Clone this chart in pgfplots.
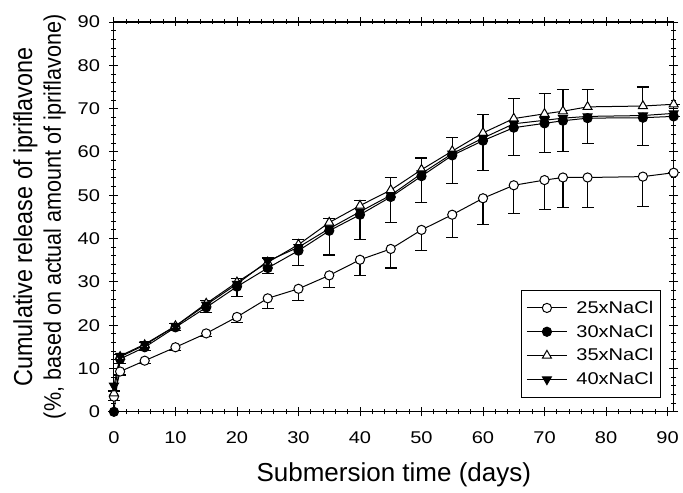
\documentclass[border=0pt]{standalone}
\usepackage{fontspec}
\setmainfont{Liberation Sans}
\newfontfamily\tickfont[FakeStretch=1.18]{Liberation Sans}
\newfontfamily\labfont[FakeStretch=0.9]{Liberation Sans}
\usepackage{pgfplots}
\pgfplotsset{compat=1.18}
\usepackage{pgfplotstable}

% time, value, error
\pgfplotstableread{
t y e
0 3.5 0.8
1 9.3 0.8
5 11.8 0.7
10 14.9 0.7
15 18.1 0.8
20 21.9 1.2
25 26.2 2.3
30 28.4 2.6
35 31.5 2.9
40 35.1 3.6
45 37.6 4.4
50 42.0 4.8
55 45.5 5.2
60 49.3 6.0
65 52.3 6.5
70 53.5 6.8
73 54.1 6.9
77 54.1 6.9
86 54.3 6.8
91 55.2 0
}\naclA
\pgfplotstableread{
t y e
0 0.0 0
1 12.2 1.0
5 14.9 0.8
10 19.5 0.8
15 24.1 1.2
20 28.9 2.2
25 33.2 1.3
30 37.2 3.4
35 41.8 5.6
40 45.5 5.7
45 49.6 5.8
50 54.4 6.1
55 59.2 6.5
60 62.6 6.8
65 65.6 6.5
70 66.6 6.7
73 67.2 7.2
77 67.8 5.8
86 67.9 6.5
91 68.2 0
}\naclB
\pgfplotstableread{
t y e
0 4.3 0.5
1 12.7 0.5
5 15.4 0.5
10 19.8 0.6
15 25.0 0.8
20 29.9 0.8
25 34.5 1.0
30 38.6 1.2
35 43.7 1.0
40 47.6 1.2
45 51.2 2.9
50 55.9 2.7
55 60.2 3.1
60 64.4 4.2
65 67.7 4.6
70 68.8 4.6
73 69.4 5.0
77 70.4 4.0
86 70.6 4.4
91 71.0 0
}\naclC
\pgfplotstableread{
t y
0 6.0
1 12.9
5 15.6
10 19.8
15 24.7
20 29.5
25 34.8
30 38.0
35 42.3
40 46.2
45 50.0
50 55.0
55 59.6
60 63.2
65 66.5
70 67.3
73 67.8
77 68.2
86 68.4
91 68.9
}\naclD

\begin{document}
\begin{tikzpicture}
\begin{axis}[
  width=560pt, height=390pt,
  scale only axis,
  xmin=0, xmax=91, ymin=0, ymax=90,
  xtick={0,10,...,90}, ytick={0,10,...,90},
  minor x tick num=4, minor y tick num=4,
  tick align=center,
  major tick length=9pt, minor tick length=5pt,
  every tick/.style={black, line width=0.9pt},
  axis line style={line width=1.1pt},
  /pgf/number format/assume math mode=true,
  tick label style={font=\tickfont\fontsize{17}{17}\selectfont},
  xticklabel style={yshift=-12pt},
  yticklabel style={xshift=-6pt},
  xlabel={Submersion time (days)},
  xlabel style={font=\fontsize{26}{26}\selectfont, yshift=-12pt},
  ylabel={{\fontsize{26}{26}\selectfont Cumulative release of ipriflavone}\\[5pt]{\fontsize{24}{24}\selectfont (\%, based on actual amount of ipriflavone)}},
  ylabel style={font=\labfont, align=center, yshift=5pt},
  clip=false,
  legend style={at={(0.977,0.036)}, anchor=south east, draw=black, line width=1pt,
    font=\tickfont\fontsize{17}{17}\selectfont, row sep=6pt,
    inner xsep=5pt, inner ysep=9pt, cells={anchor=west}},
  legend image code/.code={
    \draw[mark repeat=2, mark phase=2, #1] plot coordinates {(0pt,0pt) (20pt,0pt) (40pt,0pt)};
    \path (47pt,0pt);},
  every axis plot/.append style={black, line width=1pt, mark size=4.6pt,
    error bars/error bar style={line width=1.1pt},
    error bars/error mark options={rotate=90, mark size=6pt, line width=1.1pt}},
]
\path (rel axis cs:1,1) ++(9pt,22pt);
\path (rel axis cs:0,0) ++(-114pt,-81pt);
% error bars first, so that the open marks cover them
\addplot[draw=none, mark=none, forget plot,
  error bars/.cd, y dir=minus, y explicit]
  table[x=t, y=y, y error=e] {\naclA};
\addplot[draw=none, mark=none, forget plot,
  error bars/.cd, y dir=minus, y explicit]
  table[x=t, y=y, y error=e] {\naclB};
\addplot[draw=none, mark=none, forget plot,
  error bars/.cd, y dir=plus, y explicit]
  table[x=t, y=y, y error=e] {\naclC};

\addplot[mark=*, mark options={fill=white}]
  table[x=t, y=y] {\naclA};
\addlegendentry{25xNaCl}
\addplot[mark=*, mark options={fill=black}]
  table[x=t, y=y] {\naclB};
\addlegendentry{30xNaCl}
\addplot[mark=triangle*, mark options={fill=white, mark size=5.2pt}]
  table[x=t, y=y] {\naclC};
\addlegendentry{35xNaCl}
\addplot[mark=triangle*, mark options={fill=black, rotate=180, mark size=5.2pt}]
  table[x=t, y=y] {\naclD};
\addlegendentry{40xNaCl}
\end{axis}
\end{tikzpicture}
\end{document}
